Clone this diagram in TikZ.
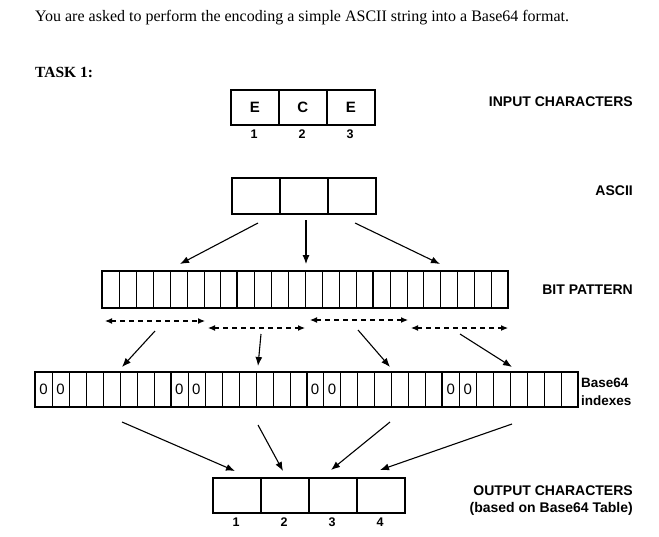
\documentclass[tikz,border=0pt]{standalone}
\usepackage{fontspec}
\usetikzlibrary{arrows.meta}
\setmainfont{Liberation Serif}
\setsansfont{Liberation Sans}
\begin{document}
\begin{tikzpicture}[x=1pt,y=-1pt,
  lab/.style={font=\sffamily\bfseries\fontsize{14}{16}\selectfont, inner sep=0},
  num/.style={font=\sffamily\bfseries\fontsize{12.5}{14}\selectfont, inner sep=0},
  cell/.style={draw, line width=1pt},
  grp/.style={draw, line width=1.8pt},
  arr/.style={-{Latex[length=9pt,width=7pt]}, line width=1.1pt},
  darr/.style={{Latex[length=7pt,width=6pt]}-{Latex[length=7pt,width=6pt]}, dash pattern=on 5pt off 4pt, line width=1.1pt}]
\useasboundingbox (0,0) rectangle (659,536);
\node[anchor=west, inner sep=0, font=\fontsize{16}{18}\selectfont] (hdr) at (35,18) {You are asked to perform the encoding a simple ASCII string into a Base64 format.};
\node[anchor=west, inner sep=0, font=\bfseries\fontsize{15.5}{18}\selectfont] (task) at (35,72) {TASK 1:};
% input
\foreach \i/\c in {0/E,1/C,2/E}{
  \node[grp, minimum width=48, minimum height=35, anchor=north west, font=\sffamily\bfseries\fontsize{15}{17}\selectfont] (in\i) at (230+48*\i,89) {\c};
  \pgfmathtruncatemacro\n{\i+1}
  \node[num] (inn\i) at (254+48*\i,134) {\n};
}
\node[lab, anchor=east] (linput) at (633,102) {INPUT CHARACTERS};
% ascii
\foreach \i in {0,1,2}{
  \node[grp, minimum width=48, minimum height=36, anchor=north west] (as\i) at (231+48*\i,177) {};
}
\node[lab, anchor=east] (lascii) at (633,191) {ASCII};
% bit pattern
\foreach \i in {0,...,23}{
  \node[cell, minimum width=16.92, minimum height=37, anchor=north west, inner sep=0] (b\i) at (102+16.92*\i,271) {};
}
\foreach \g in {0,1,2}{
  \draw[line width=1.8pt] (102+135.33*\g,271) rectangle (102+135.33*\g+135.33,308);
}
\node[lab, anchor=east] (lbit) at (633,290) {BIT PATTERN};
\coordinate (a0) at (258,223); \coordinate (a1) at (306,220); \coordinate (a2) at (355,223);
\draw[arr] (a0) -- (180,264);
\draw[arr] (a1) -- (306,264);
\draw[arr] (a2) -- (440,264);
% dashed
\coordinate (d0) at (105,321); \coordinate (d1) at (205,321);
\coordinate (d2) at (208,328); \coordinate (d3) at (305,328);
\coordinate (d4) at (310,320); \coordinate (d5) at (408,320);
\coordinate (d6) at (411,328); \coordinate (d7) at (508,328);
\draw[darr] (d0) -- (d1); \draw[darr] (d2) -- (d3);
\draw[darr] (d4) -- (d5); \draw[darr] (d6) -- (d7);
% base64 row
\foreach \i in {0,...,31}{
  \node[cell, minimum width=16.97, minimum height=35, anchor=north west, inner sep=0] (c\i) at (35+16.97*\i,372) {};
}
\foreach \g in {0,...,3}{
  \draw[line width=1.8pt] (35+135.75*\g,372) rectangle (35+135.75*\g+135.75,407);
  \node[font=\sffamily\fontsize{15}{17}\selectfont, inner sep=0] (z\g a) at (35+135.75*\g+8.5,389.5) {0};
  \node[font=\sffamily\fontsize{15}{17}\selectfont, inner sep=0] (z\g b) at (35+135.75*\g+25.5,389.5) {0};
}
\node[lab, anchor=west, align=left, font=\sffamily\bfseries\fontsize{13.5}{18}\selectfont] (lb64) at (581,392) {Base64\\indexes};
\draw[arr] (155,331) -- (122,367);
\draw[arr] (261,334) -- (258,366);
\draw[arr] (358,330) -- (390,367);
\draw[arr] (460,334) -- (512,367);
% output
\foreach \i in {0,...,3}{
  \node[grp, minimum width=48, minimum height=35, anchor=north west] (o\i) at (212+48*\i,477) {};
  \pgfmathtruncatemacro\n{\i+1}
  \node[num] (on\i) at (236+48*\i,522) {\n};
}
\draw[arr] (122,422) -- (235,471);
\draw[arr] (258,425) -- (283,471);
\draw[arr] (390,422) -- (331,470);
\draw[arr] (512,424) -- (380,470);
\node[lab, anchor=east] (lout1) at (633,491) {OUTPUT CHARACTERS};
\node[lab, anchor=east] (lout2) at (633,509) {(based on Base64 Table)};
\end{tikzpicture}
\end{document}
